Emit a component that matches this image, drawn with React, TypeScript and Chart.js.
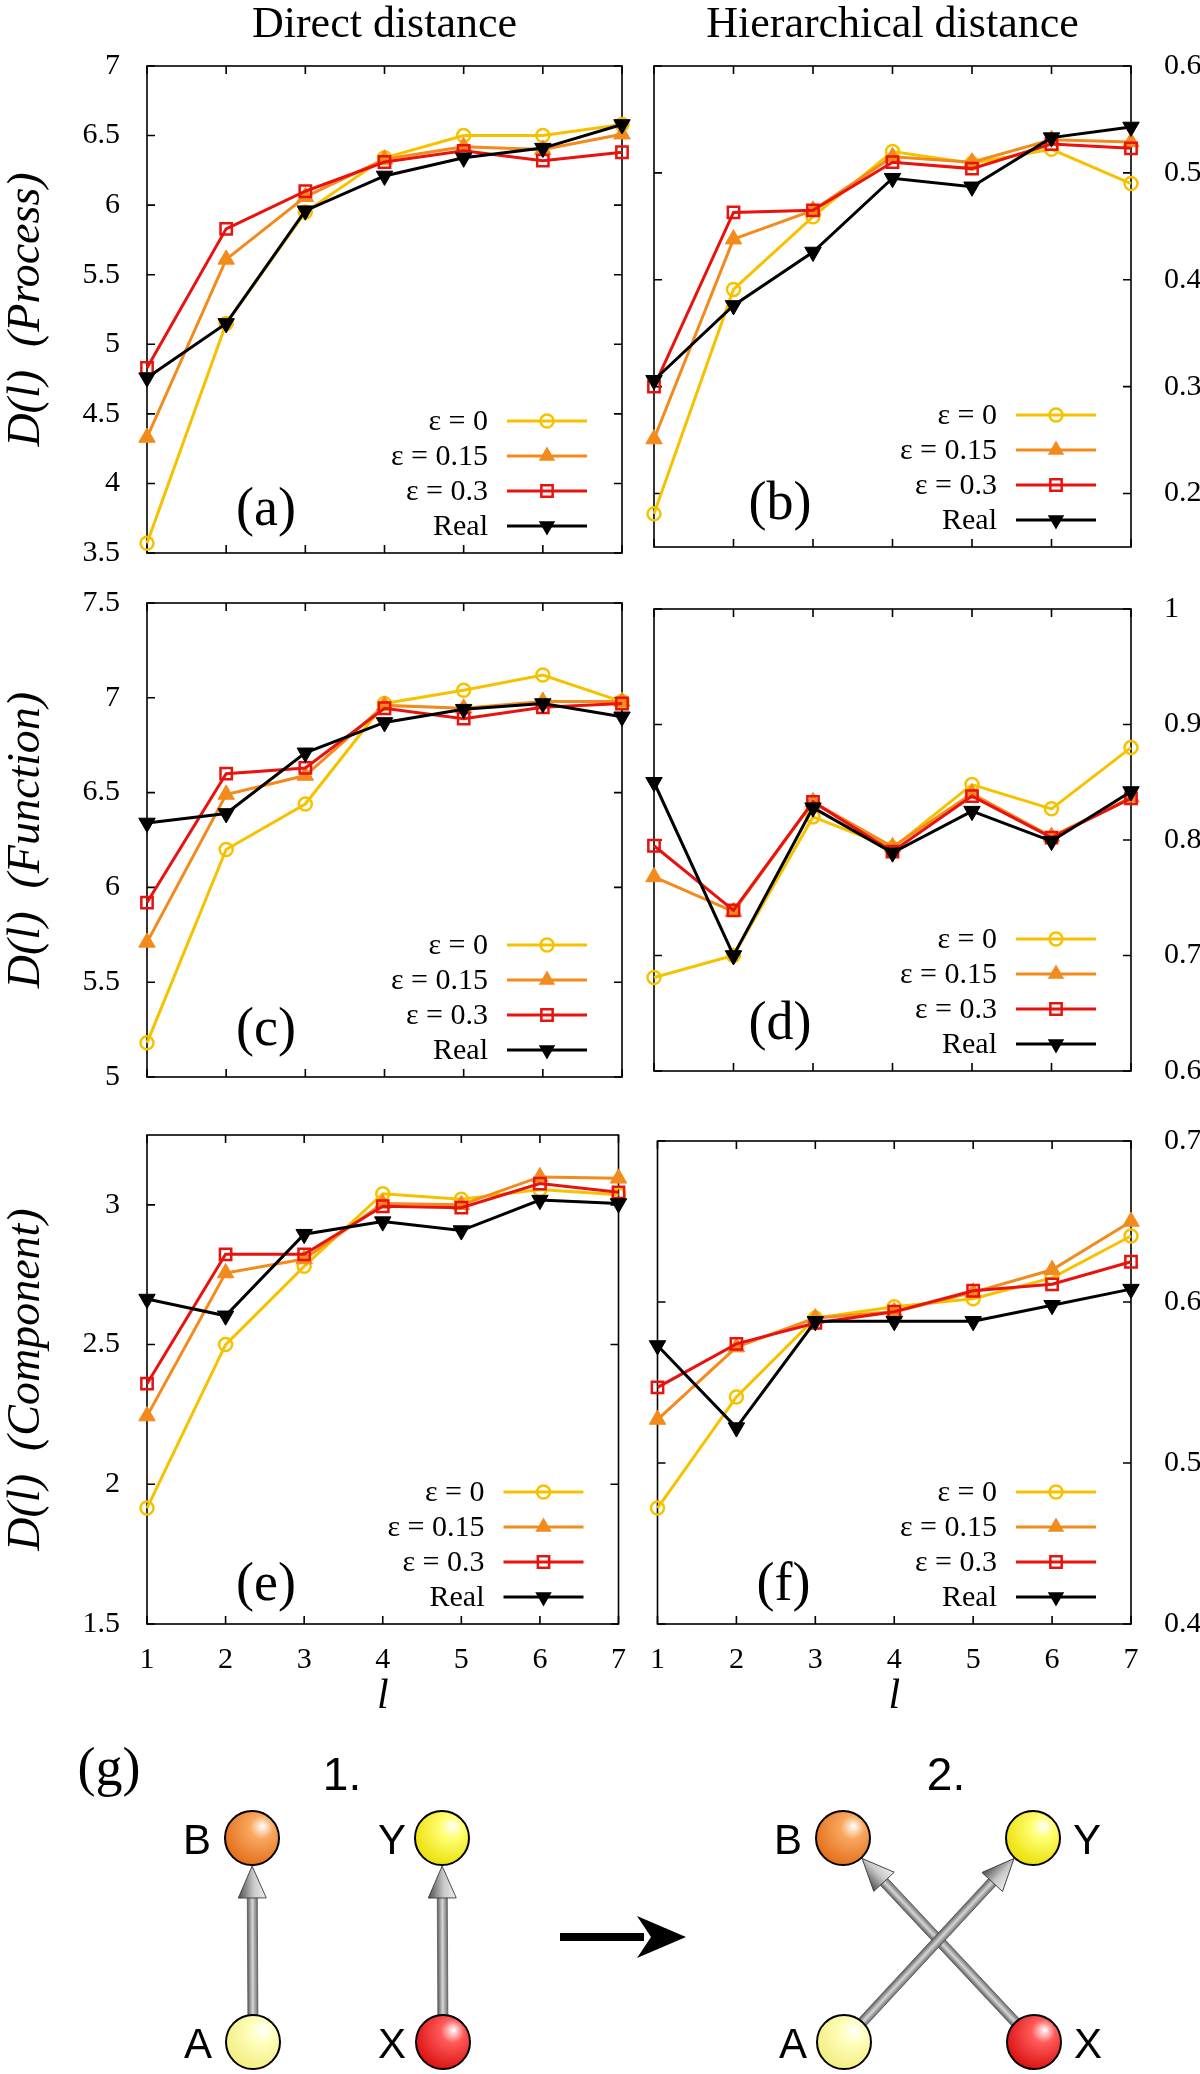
import React, { useEffect, useRef } from 'react';
import { Chart, registerables } from 'chart.js';

Chart.register(...registerables);

// ---------- DATA ----------
const L_VALUES = [1, 2, 3, 4, 5, 6, 7];
const SERIES_LABELS = ['ε = 0', 'ε = 0.15', 'ε = 0.3', 'Real'];

// (a) Direct distance, Process
const A_EPS0 = [3.57, 5.15, 5.95, 6.34, 6.5, 6.5, 6.58];
const A_EPS015 = [4.33, 5.61, 6.06, 6.33, 6.42, 6.4, 6.51];
const A_EPS03 = [4.83, 5.83, 6.1, 6.31, 6.39, 6.32, 6.38];
const A_REAL = [4.76, 5.15, 5.96, 6.21, 6.34, 6.41, 6.58];
const A_TICKS = [3.5, 4, 4.5, 5, 5.5, 6, 6.5, 7];

// (b) Hierarchical distance, Process
const B_EPS0 = [0.181, 0.391, 0.459, 0.52, 0.509, 0.522, 0.49];
const B_EPS015 = [0.251, 0.438, 0.465, 0.515, 0.51, 0.531, 0.529];
const B_EPS03 = [0.3, 0.463, 0.465, 0.51, 0.504, 0.527, 0.523];
const B_REAL = [0.306, 0.376, 0.426, 0.495, 0.487, 0.533, 0.543];
const B_TICKS = [0.2, 0.3, 0.4, 0.5, 0.6];

// (c) Direct distance, Function
const C_EPS0 = [5.18, 6.2, 6.44, 6.97, 7.04, 7.12, 6.98];
const C_EPS015 = [5.71, 6.49, 6.59, 6.96, 6.945, 6.98, 6.98];
const C_EPS03 = [5.92, 6.6, 6.63, 6.945, 6.89, 6.95, 6.97];
const C_REAL = [6.34, 6.39, 6.71, 6.87, 6.94, 6.97, 6.9];
const C_TICKS = [5, 5.5, 6, 6.5, 7, 7.5];

// (d) Hierarchical distance, Function
const D_EPS0 = [0.681, 0.7, 0.82, 0.793, 0.848, 0.827, 0.88];
const D_EPS015 = [0.768, 0.738, 0.833, 0.794, 0.84, 0.803, 0.837];
const D_EPS03 = [0.795, 0.739, 0.833, 0.79, 0.838, 0.802, 0.836];
const D_REAL = [0.85, 0.7, 0.828, 0.789, 0.825, 0.799, 0.842];
const D_TICKS = [0.6, 0.7, 0.8, 0.9, 1];

// (e) Direct distance, Component
const E_EPS0 = [1.915, 2.5, 2.78, 3.04, 3.02, 3.055, 3.036];
const E_EPS015 = [2.244, 2.756, 2.806, 3.005, 3.0, 3.1, 3.095];
const E_EPS03 = [2.36, 2.823, 2.823, 2.995, 2.99, 3.076, 3.045];
const E_REAL = [2.663, 2.603, 2.895, 2.94, 2.908, 3.017, 3.005];
const E_TICKS = [1.5, 2, 2.5, 3];

// (f) Hierarchical distance, Component
const F_EPS0 = [0.472, 0.541, 0.59, 0.597, 0.602, 0.615, 0.641];
const F_EPS015 = [0.527, 0.572, 0.59, 0.594, 0.606, 0.62, 0.65];
const F_EPS03 = [0.547, 0.574, 0.587, 0.594, 0.607, 0.611, 0.625];
const F_REAL = [0.573, 0.522, 0.588, 0.588, 0.588, 0.598, 0.608];
const F_TICKS = [0.4, 0.5, 0.6, 0.7];

// ---------- STYLES ----------
const SERIF = "'Liberation Serif', 'Times New Roman', serif";
const SANS = "'Liberation Sans', Arial, sans-serif";
const STYLES = [
  { color: '#f6c200', style: 'circle', radius: 6.5, fill: false, rotation: 0 },
  { color: '#f38a1c', style: 'triangle', radius: 9.5, fill: true, rotation: 0 },
  { color: '#e8120e', style: 'rect', radius: 8, fill: false, rotation: 0 },
  { color: '#000000', style: 'triangle', radius: 9.5, fill: true, rotation: 180 },
];

type PanelCfg = {
  key: string;
  left: number; top: number; w: number; h: number;
  side: 'left' | 'right';
  title?: string;
  yTitle?: string;
  padTop: number;
  xHeight: number;
  xLabels: boolean;
  min: number; max: number;
  ticks: number[];
  series: number[][];
  letter: string;
  letterDy: number;
};

const PANELS: PanelCfg[] = [
  { key: 'a', left: 0, top: 0, w: 636, h: 590, side: 'left', title: 'Direct distance', yTitle: 'D(l)  (Process)', padTop: 0, xHeight: 28, xLabels: false, min: 3.5, max: 7, ticks: A_TICKS, series: [A_EPS0, A_EPS015, A_EPS03, A_REAL], letter: '(a)', letterDy: 42 },
  { key: 'b', left: 640, top: 0, w: 560, h: 590, side: 'right', title: 'Hierarchical distance', padTop: 0, xHeight: 28, xLabels: false, min: 0.15, max: 0.6, ticks: B_TICKS, series: [B_EPS0, B_EPS015, B_EPS03, B_REAL], letter: '(b)', letterDy: 42 },
  { key: 'c', left: 0, top: 566, w: 636, h: 548, side: 'left', yTitle: 'D(l)  (Function)', padTop: 30, xHeight: 22, xLabels: false, min: 5, max: 7.5, ticks: C_TICKS, series: [C_EPS0, C_EPS015, C_EPS03, C_REAL], letter: '(c)', letterDy: 46 },
  { key: 'd', left: 640, top: 566, w: 560, h: 548, side: 'right', padTop: 30, xHeight: 22, xLabels: false, min: 0.6, max: 1, ticks: D_TICKS, series: [D_EPS0, D_EPS015, D_EPS03, D_REAL], letter: '(d)', letterDy: 46 },
  { key: 'e', left: 0, top: 1098, w: 636, h: 632, side: 'left', yTitle: 'D(l)  (Component)', padTop: 29, xHeight: 106, xLabels: true, min: 1.5, max: 3.25, ticks: E_TICKS, series: [E_EPS0, E_EPS015, E_EPS03, E_REAL], letter: '(e)', letterDy: 38 },
  { key: 'f', left: 640, top: 1098, w: 560, h: 632, side: 'right', padTop: 29, xHeight: 106, xLabels: true, min: 0.4, max: 0.7, ticks: F_TICKS, series: [F_EPS0, F_EPS015, F_EPS03, F_REAL], letter: '(f)', letterDy: 38 },
];

function drawMarker(ctx: CanvasRenderingContext2D, i: number, x: number, y: number) {
  const s = STYLES[i];
  ctx.save();
  ctx.strokeStyle = s.color;
  ctx.fillStyle = s.color;
  ctx.lineWidth = 2.5;
  ctx.beginPath();
  if (s.style === 'circle') {
    ctx.arc(x, y, s.radius, 0, Math.PI * 2);
    ctx.stroke();
  } else if (s.style === 'rect') {
    const h = s.radius * Math.SQRT1_2;
    ctx.rect(x - h, y - h, 2 * h, 2 * h);
    ctx.stroke();
  } else {
    const r = s.radius;
    let a = (s.rotation * Math.PI) / 180;
    ctx.moveTo(x + Math.sin(a) * r, y - Math.cos(a) * r);
    a += (2 * Math.PI) / 3;
    ctx.lineTo(x + Math.sin(a) * r, y - Math.cos(a) * r);
    a += (2 * Math.PI) / 3;
    ctx.lineTo(x + Math.sin(a) * r, y - Math.cos(a) * r);
    ctx.closePath();
    ctx.fill();
  }
  ctx.restore();
}

function Panel({ cfg }: { cfg: PanelCfg }) {
  const ref = useRef<HTMLCanvasElement>(null);
  useEffect(() => {
    const frame = {
      id: 'frame' + cfg.key,
      beforeDatasetsDraw(chart: any) {
        const { ctx, chartArea: a, scales } = chart;
        ctx.save();
        ctx.strokeStyle = '#000';
        ctx.lineWidth = 1.6;
        ctx.strokeRect(a.left, a.top, a.right - a.left, a.bottom - a.top);
        const TL = 8;
        ctx.beginPath();
        scales.y.ticks.forEach((t: any) => {
          const y = scales.y.getPixelForValue(t.value);
          ctx.moveTo(a.left, y); ctx.lineTo(a.left + TL, y);
          ctx.moveTo(a.right, y); ctx.lineTo(a.right - TL, y);
        });
        scales.x.ticks.forEach((t: any) => {
          const x = scales.x.getPixelForValue(t.value);
          ctx.moveTo(x, a.top); ctx.lineTo(x, a.top + TL);
          ctx.moveTo(x, a.bottom); ctx.lineTo(x, a.bottom - TL);
        });
        ctx.stroke();
        ctx.restore();
      },
      afterDraw(chart: any) {
        const { ctx, chartArea: a } = chart;
        ctx.save();
        const rows = [132, 97, 62, 27];
        ctx.font = `30px ${SERIF}`;
        ctx.fillStyle = '#000';
        ctx.textAlign = 'right';
        ctx.textBaseline = 'middle';
        SERIES_LABELS.forEach((lab, i) => {
          const y = a.bottom - rows[i];
          ctx.fillStyle = '#000';
          ctx.fillText(lab, a.right - 134, y + 1);
          ctx.strokeStyle = STYLES[i].color;
          ctx.lineWidth = 3;
          ctx.beginPath();
          ctx.moveTo(a.right - 115, y);
          ctx.lineTo(a.right - 35, y);
          ctx.stroke();
          drawMarker(ctx, i, a.right - 75, y);
        });
        ctx.font = `54px ${SERIF}`;
        ctx.textAlign = 'center';
        ctx.fillStyle = '#000';
        const lx = cfg.side === 'left' ? a.left + 119 : a.left + 126;
        ctx.fillText(cfg.letter, lx, a.bottom - cfg.letterDy);
        ctx.restore();
      },
    };

    const chart = new Chart(ref.current as HTMLCanvasElement, {
      type: 'line',
      data: {
        datasets: cfg.series.map((vals, i) => ({
          label: SERIES_LABELS[i],
          data: L_VALUES.map((x, j) => ({ x, y: vals[j] })),
          borderColor: STYLES[i].color,
          backgroundColor: STYLES[i].fill ? STYLES[i].color : 'rgba(0,0,0,0)',
          pointBackgroundColor: STYLES[i].fill ? STYLES[i].color : 'rgba(0,0,0,0)',
          pointBorderColor: STYLES[i].color,
          pointStyle: STYLES[i].style as any,
          pointRadius: STYLES[i].radius,
          pointRotation: STYLES[i].rotation,
          pointBorderWidth: STYLES[i].fill ? 1 : 2.5,
          borderWidth: 3,
          tension: 0,
          fill: false,
          clip: false as any,
          order: 3 - i,
        })),
      },
      options: {
        responsive: false,
        animation: false,
        devicePixelRatio: 1,
        events: [],
        layout: {
          padding: {
            top: cfg.padTop,
            bottom: 0,
            left: cfg.side === 'left' ? 0 : 14,
            right: cfg.side === 'left' ? 14 : 0,
          },
        },
        plugins: {
          legend: { display: false },
          tooltip: { enabled: false },
          title: cfg.title
            ? {
                display: true,
                text: cfg.title,
                fullSize: false,
                color: '#000',
                font: { family: SERIF, size: 44, lineHeight: 1, weight: 'normal' as any },
                padding: { top: 3, bottom: 19 },
              }
            : { display: false },
        },
        scales: {
          x: {
            type: 'linear',
            min: 1,
            max: 7,
            grid: { display: false },
            border: { display: false },
            afterBuildTicks: (s: any) => {
              s.ticks = L_VALUES.map((v) => ({ value: v }));
            },
            ticks: {
              display: cfg.xLabels,
              autoSkip: false,
              maxRotation: 0,
              color: '#000',
              padding: 10,
              font: { family: SERIF, size: 30 },
              callback: (v: any) => String(v),
            },
            title: {
              display: cfg.xLabels,
              text: 'l',
              color: '#000',
              font: { family: SERIF, size: 42, style: 'italic' },
              padding: { top: 0, bottom: 8 },
            },
            afterFit: (s: any) => {
              s.height = cfg.xHeight;
            },
          },
          y: {
            type: 'linear',
            position: cfg.side,
            min: cfg.min,
            max: cfg.max,
            grid: { display: false },
            border: { display: false },
            afterBuildTicks: (s: any) => {
              s.ticks = cfg.ticks.map((v) => ({ value: v }));
            },
            ticks: {
              autoSkip: false,
              color: '#000',
              padding: cfg.side === 'left' ? 19 : 25,
              font: { family: SERIF, size: 30 },
              callback: (v: any) => String(v),
            },
            title: cfg.yTitle
              ? {
                  display: true,
                  text: cfg.yTitle,
                  color: '#000',
                  font: { family: SERIF, size: 46, style: 'italic', lineHeight: 1.15 },
                  padding: { top: 0, bottom: 0 },
                }
              : { display: false },
            afterFit: (s: any) => {
              s.width = cfg.side === 'left' ? 147 : 69;
            },
          },
        },
      },
      plugins: [frame],
    } as any);
    return () => chart.destroy();
  }, [cfg]);
  return (
    <canvas
      ref={ref}
      width={cfg.w}
      height={cfg.h}
      style={{ position: 'absolute', left: cfg.left, top: cfg.top, width: cfg.w, height: cfg.h }}
    />
  );
}

// ---------- DIAGRAM (g) ----------
const NODE_R = 27;
type Node = { x: number; y: number; grad: string; label: string; lx: number };
const NODES: Node[] = [
  { x: 252, y: 1838, grad: 'gOr', label: 'B', lx: 197 },
  { x: 253, y: 2042, grad: 'gLy', label: 'A', lx: 198 },
  { x: 442, y: 1838, grad: 'gYe', label: 'Y', lx: 392 },
  { x: 443, y: 2042, grad: 'gRe', label: 'X', lx: 392 },
  { x: 843, y: 1838, grad: 'gOr', label: 'B', lx: 788 },
  { x: 1033, y: 1838, grad: 'gYe', label: 'Y', lx: 1087 },
  { x: 844, y: 2042, grad: 'gLy', label: 'A', lx: 793 },
  { x: 1034, y: 2042, grad: 'gRe', label: 'X', lx: 1088 },
];
// arrows: [fromNodeIndex, toNodeIndex]
const EDGES = [
  [1, 0],
  [3, 2],
  [7, 4],
  [6, 5],
];

function Arrow({ a, b }: { a: Node; b: Node }) {
  const dx = b.x - a.x;
  const dy = b.y - a.y;
  const d = Math.hypot(dx, dy);
  const ux = dx / d;
  const uy = dy / d;
  const sx = a.x + ux * (NODE_R - 2);
  const sy = a.y + uy * (NODE_R - 2);
  const tx = b.x - ux * (NODE_R + 1);
  const ty = b.y - uy * (NODE_R + 1);
  const len = Math.hypot(tx - sx, ty - sy);
  const ang = (Math.atan2(tx - sx, -(ty - sy)) * 180) / Math.PI;
  const HL = 32;
  const HW = 14;
  return (
    <g transform={`translate(${sx},${sy}) rotate(${ang})`}>
      <rect x={-5} y={-(len - HL + 1)} width={10} height={len - HL + 1} fill="url(#gShaft)" stroke="#4a4a4a" strokeWidth={0.7} />
      <polygon points={`0,${-len} ${-HW},${-len + HL} ${HW},${-len + HL}`} fill="url(#gHead)" stroke="#3a3a3a" strokeWidth={0.9} />
    </g>
  );
}

function Diagram() {
  return (
    <svg
      width={1200}
      height={354}
      viewBox="0 1720 1200 354"
      style={{ position: 'absolute', left: 0, top: 1720 }}
    >
      <defs>
        <radialGradient id="gOr" cx="0.62" cy="0.35" r="0.72" fx="0.7" fy="0.28">
          <stop offset="0" stopColor="#ffffff" />
          <stop offset="0.3" stopColor="#f8a860" />
          <stop offset="1" stopColor="#e26a14" />
        </radialGradient>
        <radialGradient id="gYe" cx="0.62" cy="0.35" r="0.72" fx="0.7" fy="0.28">
          <stop offset="0" stopColor="#ffffff" />
          <stop offset="0.3" stopColor="#ffff70" />
          <stop offset="1" stopColor="#eadc00" />
        </radialGradient>
        <radialGradient id="gLy" cx="0.62" cy="0.35" r="0.72" fx="0.7" fy="0.28">
          <stop offset="0" stopColor="#ffffff" />
          <stop offset="0.3" stopColor="#ffffc0" />
          <stop offset="1" stopColor="#f2ec7a" />
        </radialGradient>
        <radialGradient id="gRe" cx="0.62" cy="0.35" r="0.72" fx="0.7" fy="0.28">
          <stop offset="0" stopColor="#ffffff" />
          <stop offset="0.3" stopColor="#ff5a5a" />
          <stop offset="1" stopColor="#d80c0c" />
        </radialGradient>
        <linearGradient id="gShaft" x1="0" y1="0" x2="1" y2="0">
          <stop offset="0" stopColor="#5e5e5e" />
          <stop offset="0.5" stopColor="#d6d6d6" />
          <stop offset="1" stopColor="#6e6e6e" />
        </linearGradient>
        <linearGradient id="gHead" x1="0" y1="0" x2="1" y2="0">
          <stop offset="0" stopColor="#4e4e4e" />
          <stop offset="0.55" stopColor="#c8c8c8" />
          <stop offset="1" stopColor="#eeeeee" />
        </linearGradient>
      </defs>
      <text x={109} y={1767} fontFamily={SERIF} fontSize={54} textAnchor="middle" dominantBaseline="central">(g)</text>
      <text x={342} y={1774} fontFamily={SANS} fontSize={46} textAnchor="middle" dominantBaseline="central">1.</text>
      <text x={946} y={1774} fontFamily={SANS} fontSize={46} textAnchor="middle" dominantBaseline="central">2.</text>
      {EDGES.map(([f, t], i) => (
        <Arrow key={i} a={NODES[f]} b={NODES[t]} />
      ))}
      {NODES.map((n, i) => (
        <g key={i}>
          <circle cx={n.x} cy={n.y} r={NODE_R} fill={`url(#${n.grad})`} stroke="#000" strokeWidth={2} />
          <text x={n.lx} y={n.y + 1} fontFamily={SANS} fontSize={42} textAnchor="middle" dominantBaseline="central">{n.label}</text>
        </g>
      ))}
      <rect x={560} y={1933} width={84} height={8} fill="#000" />
      <polygon points="637,1916 686,1937 637,1958 651,1937" fill="#000" />
    </svg>
  );
}

export default function App() {
  return (
    <div style={{ position: 'absolute', left: 0, top: 0, width: 1200, height: 2074, background: '#fff', overflow: 'hidden' }}>
      {PANELS.map((p) => (
        <Panel key={p.key} cfg={p} />
      ))}
      <Diagram />
    </div>
  );
}
